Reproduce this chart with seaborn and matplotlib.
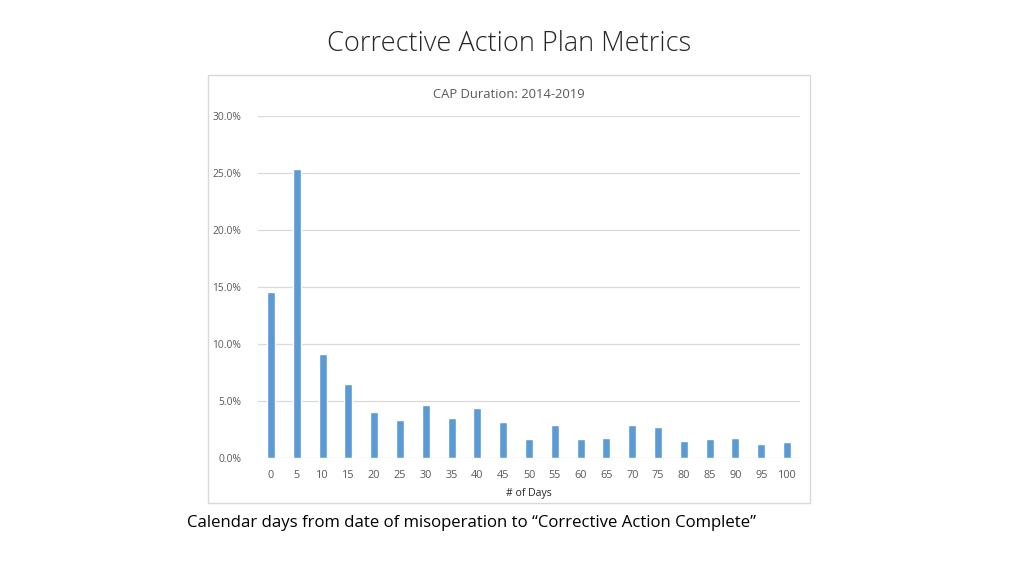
import matplotlib
matplotlib.use("Agg")
import matplotlib.pyplot as plt
import seaborn as sns
import pandas as pd
from matplotlib.ticker import PercentFormatter
from matplotlib.patches import Rectangle

days = ["0", "5", "10", "15", "20", "25", "30", "35", "40", "45", "50",
        "55", "60", "65", "70", "75", "80", "85", "90", "95", "100"]
share = [0.1456, 0.2534, 0.0908, 0.0653, 0.0407, 0.0331, 0.0469, 0.0352, 0.0442, 0.0319, 0.0164,
         0.0289, 0.0164, 0.0178, 0.0289, 0.0269, 0.0152, 0.0164, 0.0178, 0.0120, 0.0137]

title = "Corrective Action Plan Metrics"
chart_title = "CAP Duration: 2014-2019"
x_label = "# of Days"
caption = "Calendar days from date of misoperation to \u201cCorrective Action Complete\u201d"

df = pd.DataFrame({"days": days, "share": share})

sns.set_theme(style="white")
plt.rcParams["font.family"] = ["Open Sans", "DejaVu Sans"]

fig = plt.figure(figsize=(10.24, 5.76), dpi=100)
fig.patch.set_facecolor("white")

# chart frame
fig.patches.append(Rectangle((208 / 1024, 1 - 503 / 576), (810 - 208) / 1024, (503 - 75) / 576,
                             transform=fig.transFigure, fill=False, edgecolor="#d9d9d9", linewidth=1))

ax = fig.add_axes([258 / 1024, 1 - 458 / 576, (800 - 258) / 1024, (458 - 116) / 576])
sns.barplot(data=df, x="days", y="share", color="#5B9BD5", width=0.31, saturation=1, ax=ax)

ax.set_ylim(0, 0.30)
ax.set_xlim(-0.5, len(days) - 0.5)
ax.set_yticks([0, 0.05, 0.10, 0.15, 0.20, 0.25, 0.30])
ax.yaxis.set_major_formatter(PercentFormatter(1.0, decimals=1))
ax.grid(axis="y", color="#d9d9d9", linewidth=0.9)
ax.set_axisbelow(True)
for s in ax.spines.values():
    s.set_visible(False)
ax.tick_params(axis="y", length=0, labelsize=7.4, labelcolor="#595959", pad=12)
ax.tick_params(axis="x", length=0, labelsize=7.8, labelcolor="#595959", pad=9)
ax.set_ylabel("")
ax.set_xlabel(x_label, fontsize=7.5, color="#262626", labelpad=5)

fig.text(509 / 1024, 1 - 94 / 576, chart_title, ha="center", va="center", fontsize=9.4, color="#595959")
fig.text(509 / 1024, 1 - 44 / 576, title, ha="center", va="center", fontsize=19.5, color="#262626",
         fontweight="light")
fig.text(187 / 1024, 1 - 523 / 576, caption, ha="left", va="center", fontsize=12.1, color="#000000")

fig.savefig("out.png", dpi=100)
